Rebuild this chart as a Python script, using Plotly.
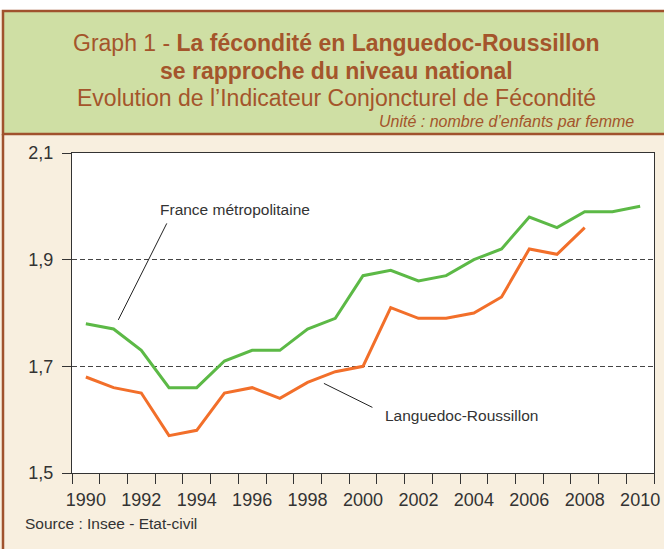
import plotly.graph_objects as go

years = list(range(1990, 2011))
france = [1.78, 1.77, 1.73, 1.66, 1.66, 1.71, 1.73, 1.73, 1.77, 1.79, 1.87,
          1.88, 1.86, 1.87, 1.90, 1.92, 1.98, 1.96, 1.99, 1.99, 2.00]
languedoc = [1.68, 1.66, 1.65, 1.57, 1.58, 1.65, 1.66, 1.64, 1.67, 1.69, 1.70,
             1.81, 1.79, 1.79, 1.80, 1.83, 1.92, 1.91, 1.96]
x_label_years = list(range(1990, 2011, 2))
x_labels = [str(y) for y in x_label_years]
y_ticks = [1.5, 1.7, 1.9, 2.1]
y_labels = ["1,5", "1,7", "1,9", "2,1"]

FONT = "Liberation Sans, Arial, sans-serif"
BROWN = "#a0522d"
TITLE_C = "#a4552b"
GREEN_BG = "#cfdfa4"
BEIGE = "#f8efdf"
TXT = "#333333"

fig = go.Figure()
fig.add_trace(go.Scatter(x=years, y=france, mode="lines",
                         line=dict(color="#5cb946", width=3), name="France métropolitaine"))
fig.add_trace(go.Scatter(x=years[:len(languedoc)], y=languedoc, mode="lines",
                         line=dict(color="#f26f2a", width=3), name="Languedoc-Roussillon"))

W, H = 664, 549
L, R, T, B = 72, 10, 153, 76
PW, PH = W - L - R, H - T - B


def px(xp):
    return (xp - L) / PW


def py(yp):
    return (H - B - yp) / PH


shapes = [
    dict(type="rect", xref="paper", yref="paper", x0=px(-5), x1=px(W + 5), y0=py(10), y1=py(-5),
         fillcolor="white", line=dict(width=0), layer="below"),
    dict(type="rect", xref="paper", yref="paper", x0=px(3), x1=px(W + 6), y0=py(134), y1=py(11),
         fillcolor=GREEN_BG, line=dict(color=BROWN, width=2.5), layer="below"),
    dict(type="line", xref="paper", yref="paper", x0=px(3), x1=px(3), y0=py(134), y1=py(H + 5),
         line=dict(color=BROWN, width=2.5), layer="below"),
    dict(type="line", xref="x", yref="y", x0=1992.92, y0=1.968, x1=1991.17, y1=1.787,
         line=dict(color="#222222", width=1)),
    dict(type="line", xref="x", yref="y", x0=1998.59, y0=1.668, x1=2000.34, y1=1.623,
         line=dict(color="#222222", width=1)),
]

annotations = [
    dict(xref="paper", yref="paper", x=px(336), y=py(43), xanchor="center", yanchor="middle",
         text="Graph 1 - <b>La fécondité en Languedoc-Roussillon</b>", showarrow=False,
         font=dict(family=FONT, size=23, color=TITLE_C)),
    dict(xref="paper", yref="paper", x=px(336), y=py(71), xanchor="center", yanchor="middle",
         text="<b>se rapproche du niveau national</b>", showarrow=False,
         font=dict(family=FONT, size=23, color=TITLE_C)),
    dict(xref="paper", yref="paper", x=px(336), y=py(98), xanchor="center", yanchor="middle",
         text="Evolution de l’Indicateur Conjoncturel de Fécondité", showarrow=False,
         font=dict(family=FONT, size=23, color=TITLE_C)),
    dict(xref="paper", yref="paper", x=px(636), y=py(122), xanchor="right", yanchor="middle",
         text="<i>Unité : nombre d’enfants par femme</i>", showarrow=False,
         font=dict(family=FONT, size=16, color=TITLE_C)),
    dict(xref="x", yref="y", x=1992.61, y=1.995, xanchor="left", yanchor="middle",
         text="France métropolitaine", showarrow=False,
         font=dict(family=FONT, size=15.5, color=TXT)),
    dict(xref="x", yref="y", x=2000.73, y=1.607, xanchor="left", yanchor="middle",
         text="Languedoc-Roussillon", showarrow=False,
         font=dict(family=FONT, size=15.5, color=TXT)),
    dict(xref="paper", yref="paper", x=px(23), y=py(523), xanchor="left", yanchor="middle",
         text="Source : Insee - Etat-civil", showarrow=False,
         font=dict(family=FONT, size=15.5, color=TXT)),
]

fig.update_layout(
    width=W, height=H,
    margin=dict(l=L, r=R, t=T, b=B, pad=0, autoexpand=False),
    paper_bgcolor=BEIGE, plot_bgcolor="white",
    showlegend=False,
    shapes=shapes, annotations=annotations,
    font=dict(family=FONT, color=TXT),
    xaxis=dict(range=[1989.5, 2010.5], tickvals=x_label_years, ticktext=x_labels,
               automargin=False,
               ticks="outside", ticklen=10, tickcolor="rgba(0,0,0,0)",
               tickfont=dict(family=FONT, size=18, color=TXT),
               showgrid=False, zeroline=False,
               showline=True, mirror=True, linecolor="#333333", linewidth=1.2,
               minor=dict(tickvals=[y + 0.5 for y in range(1989, 2011)], ticks="outside",
                          ticklen=10, tickcolor="#333333", tickwidth=1, showgrid=False)),
    yaxis=dict(range=[1.5, 2.1], tickvals=y_ticks, ticktext=y_labels,
               automargin=False,
               ticks="outside", ticklen=9, tickcolor="#333333", tickwidth=1,
               tickfont=dict(family=FONT, size=18, color=TXT), ticklabelstandoff=5,
               showgrid=True, gridcolor="#444444", gridwidth=1, griddash="5px,3px",
               zeroline=False,
               showline=True, mirror=True, linecolor="#333333", linewidth=1.2),
)

fig.write_html("out.html", config={"displayModeBar": False},
               post_script="document.body.style.margin='0';document.body.style.overflow='hidden';")
